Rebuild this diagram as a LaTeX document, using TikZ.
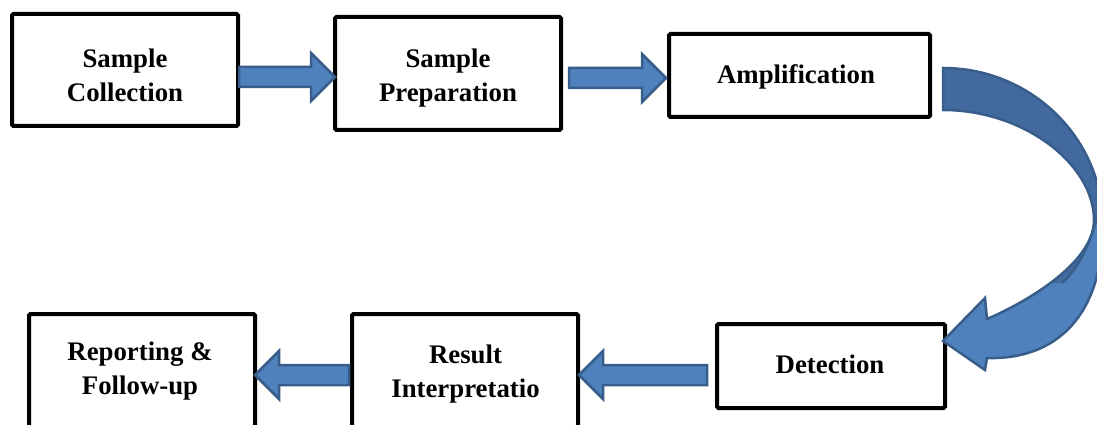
\documentclass[tikz,border=0pt]{standalone}
\usepackage{fontspec}
\setmainfont{Liberation Serif}
\usetikzlibrary{calc}
\definecolor{arrowfill}{HTML}{4F81BD}
\definecolor{arrowline}{HTML}{385D8A}
\definecolor{arrowback}{HTML}{426A9E}
\tikzset{
  stepbox/.style={draw=black, line width=4pt, rounded corners=1.5pt,
    inner sep=0pt, outer sep=0pt, fill=white},
  steptext/.style={font=\bfseries\fontsize{26.8}{34}\selectfont,
    align=center, inner sep=0pt},
  flowarrow/.style={fill=arrowfill, draw=arrowline, line width=2.5pt,
    line join=miter},
  bentarrow/.style={draw=arrowline, line width=2.5pt, line join=miter},
}
% Straight block arrow from the first point to the tip x of the second
\newcommand\blockarrow[2]{%
  \path[flowarrow] let \p1=(#1), \p2=(#2), \n1={ifthenelse(\x2>\x1,1,-1)} in
    (\x1,\y1+10pt) -- (\x2-24pt*\n1,\y1+10pt) -- (\x2-24pt*\n1,\y1+24pt)
    -- (\x2,\y1) -- (\x2-24pt*\n1,\y1-24pt) -- (\x2-24pt*\n1,\y1-10pt)
    -- (\x1,\y1-10pt) -- cycle;}
% Outline of the curved arrow down the right-hand side
\newcommand\bentpath{(943,68) .. controls (1031,68) and (1103,138) .. (1103,225)
  .. controls (1103,315) and (1057,360) .. (987,358)
  -- (985,370) -- (943,341) -- (985,298) -- (987,319)
  .. controls (1020,305) and (1094,265) .. (1094,220)
  .. controls (1094,165) and (1025,110) .. (943,110) -- cycle}

\begin{document}
\begin{tikzpicture}[x=1pt,y=-1pt]
\useasboundingbox (0,0) rectangle (1097,425);
\clip (0,0) rectangle (1097,425);

% process boxes
\node[stepbox, minimum width=226pt, minimum height=112pt] (s1) at (125,70) {};
\node[stepbox, minimum width=226pt, minimum height=113pt] (s2) at (448,73.5) {};
\node[stepbox, minimum width=261pt, minimum height=83pt] (s3) at (799.5,75.5) {};
\node[stepbox, minimum width=228pt, minimum height=84pt] (s4) at (831,366) {};
\node[stepbox, minimum width=226pt, minimum height=113pt] (s5) at (465,370.5) {};
\node[stepbox, minimum width=226pt, minimum height=113pt] (s6) at (142,370.5) {};

% box labels
\node[steptext] (t1) at (125,75) {Sample\\Collection};
\node[steptext] (t2) at (448,77.8) {Sample\\Preparation};
\node[steptext] (t3) at (796,76.8) {Amplification};
\node[steptext] (t4) at (830,364.5) {Detection};
\node[steptext] (t5) at (465.5,373.8) {Result\\Interpretatio};
\node[steptext] (t6) at (140,371.3) {Reporting \&\\Follow-up};

% straight arrows
\blockarrow{$(s1.east)+(1,7)$}{s2.west}
\blockarrow{$(s2.east)+(8,4.5)$}{$(s3.west)+(-3,0)$}
\blockarrow{$(s4.west)+(-10,9)$}{$(s5.east)+(1,0)$}
\blockarrow{$(s5.west)+(-3,4.5)$}{s6.east}

% curved arrow from Amplification to Detection
\fill[arrowfill] \bentpath;
\begin{scope}
  \clip \bentpath;
  \fill[arrowback] (930,40) -- (1120,40) -- (1120,199) -- (1101,199)
    .. controls (1094,235) and (1082,265) .. (1062,283)
    -- (1000,283) -- (930,260) -- cycle;
  \draw[bentarrow] (1101,199) .. controls (1094,235) and (1082,265) .. (1062,283);
\end{scope}
\draw[bentarrow] \bentpath;
\end{tikzpicture}
\end{document}
